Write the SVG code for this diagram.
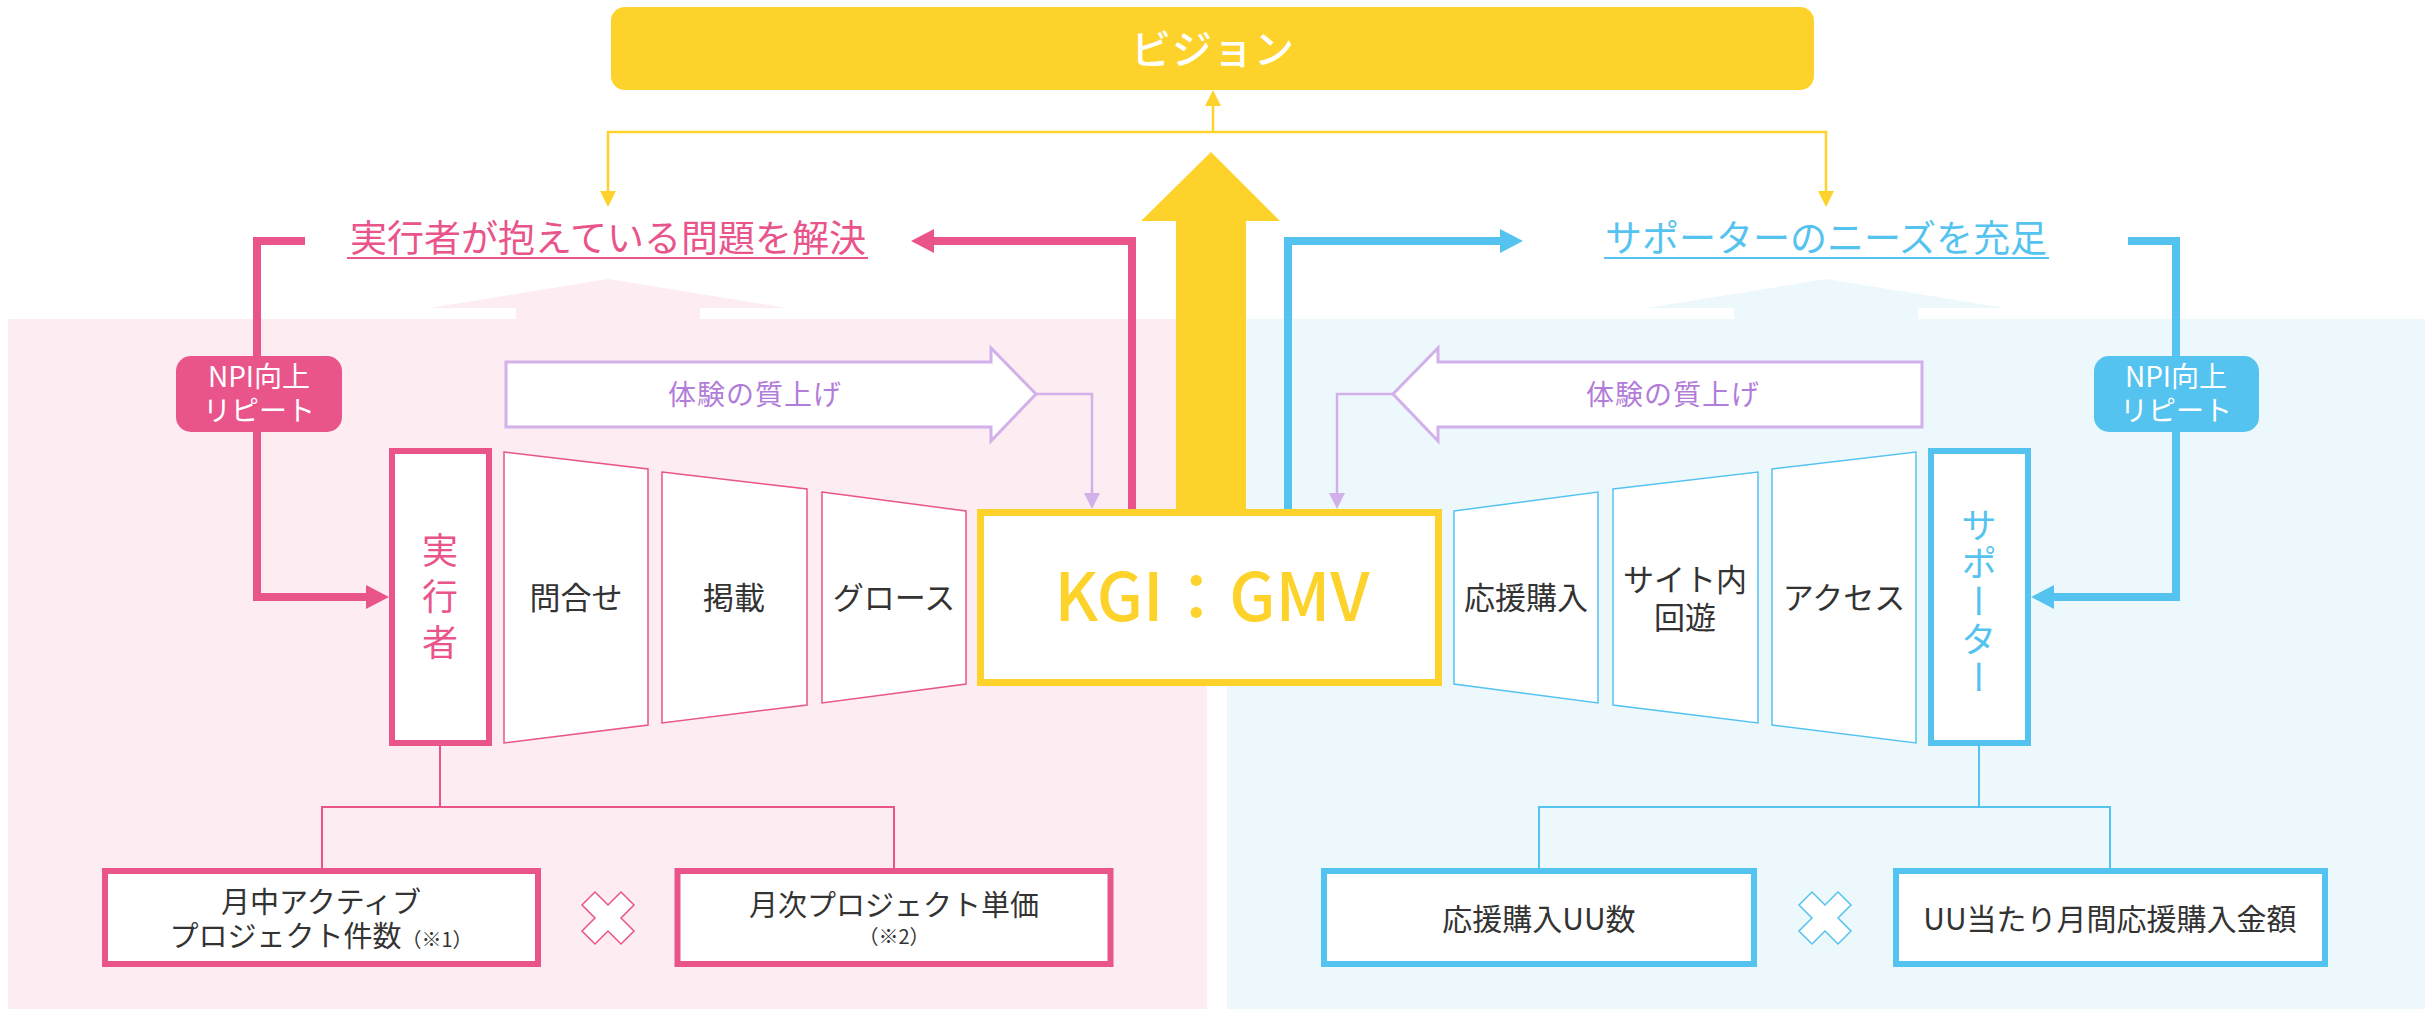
<svg xmlns="http://www.w3.org/2000/svg" width="2433" height="1009" viewBox="0 0 2433 1009">
<style>
text{font-family:"Noto Sans CJK JP","Noto Sans",sans-serif;}
.pk{fill:#e9548a;}
.bl{fill:#55c3f0;}
.dk{fill:#333333;}
.pu{fill:#b27cd9;}
.wh{fill:#ffffff;}
.ylw{fill:#fdd32b;}
.tpk{fill:#ffffff;stroke:#e9548a;stroke-width:1.5;}
.tbl{fill:#ffffff;stroke:#55c3f0;stroke-width:1.5;}
.bpk{fill:#ffffff;stroke:#e9548a;stroke-width:6;}
.bbl{fill:#ffffff;stroke:#55c3f0;stroke-width:6;}
.lpk{fill:none;stroke:#e9548a;}
.lbl{fill:none;stroke:#55c3f0;}
.ly{fill:none;stroke:#fdd32b;stroke-width:2.5;}
.lav{fill:none;stroke:#d2b0ea;stroke-width:2.5;}
.exp{fill:#ffffff;stroke:#d2b0ea;stroke-width:3;}
</style>

<!-- backgrounds -->
<g id="backgrounds">
<rect x="8" y="319" width="1199" height="690" fill="#fdedf2"/>
<rect x="1227" y="319" width="1198" height="690" fill="#edf8fd"/>
<polygon points="608,279 787,308 700,308 700,320 516,320 516,308 429,308" fill="#fdedf2"/>
<polygon points="1826,279 2005,308 1918,308 1918,320 1734,320 1734,308 1647,308" fill="#edf8fd"/>
</g>

<!-- connectors -->
<g id="connectors">
<!-- big yellow arrow -->
<rect x="1176" y="220" width="70" height="294" class="ylw"/>
<polygon points="1211,152 1280,221 1141,221" class="ylw"/>
<!-- thin yellow branch -->
<polyline points="1213,106 1213,132" class="ly"/>
<polyline points="608,192 608,132 1826,132 1826,192" class="ly"/>
<polygon points="1213,90 1221,106 1205,106" class="ylw"/>
<polygon points="608,207 600,191 616,191" class="ylw"/>
<polygon points="1826,207 1818,191 1834,191" class="ylw"/>
<!-- pink thick -->
<polyline points="1132,512 1132,241 932,241" class="lpk" stroke-width="8"/>
<polygon points="911,241 934,229 934,253" class="pk"/>
<polyline points="305,241 257,241 257,597 368,597" class="lpk" stroke-width="8"/>
<polygon points="389,597 366,585 366,609" class="pk"/>
<!-- blue thick -->
<polyline points="1288,512 1288,241 1502,241" class="lbl" stroke-width="8"/>
<polygon points="1523,241 1500,229 1500,253" class="bl"/>
<polyline points="2128,241 2176,241 2176,597 2052,597" class="lbl" stroke-width="8"/>
<polygon points="2031,597 2054,585 2054,609" class="bl"/>
<!-- lavender -->
<polyline points="1036,394 1092,394 1092,495" class="lav"/>
<polygon points="1092,509 1084,493 1100,493" fill="#d2b0ea"/>
<polyline points="1393,394 1337,394 1337,495" class="lav"/>
<polygon points="1337,509 1329,493 1345,493" fill="#d2b0ea"/>
<!-- bottom trees -->
<polyline points="440,746 440,807" class="lpk" stroke-width="2"/>
<polyline points="322,868 322,807 894,807 894,868" class="lpk" stroke-width="2"/>
<polyline points="1979,746 1979,807" class="lbl" stroke-width="2"/>
<polyline points="1539,868 1539,807 2110,807 2110,868" class="lbl" stroke-width="2"/>
</g>

<!-- vision -->
<g id="vision">
<rect x="611" y="7" width="1203" height="83" rx="14" class="ylw"/>
<text x="1213" y="64" font-size="40" font-weight="500" text-anchor="middle" class="wh" letter-spacing="1">ビジョン</text>
</g>

<!-- goals -->
<g id="goal-executor">
<text x="608" y="252" font-size="37" text-anchor="middle" class="pk">実行者が抱えている問題を解決</text>
<rect x="347" y="257" width="521" height="2" class="pk"/>
</g>
<g id="goal-supporter">
<text x="1826" y="252" font-size="37" text-anchor="middle" class="bl">サポーターのニーズを充足</text>
<rect x="1604" y="257" width="445" height="2" class="bl"/>
</g>

<!-- NPI labels -->
<g id="npi-left">
<rect x="176" y="356" width="166" height="76" rx="15" class="pk"/>
<text x="259" y="387" font-size="28" text-anchor="middle" class="wh">NPI向上</text>
<text x="259" y="421" font-size="28" text-anchor="middle" class="wh">リピート</text>
</g>
<g id="npi-right">
<rect x="2094" y="356" width="165" height="76" rx="15" class="bl"/>
<text x="2176" y="387" font-size="28" text-anchor="middle" class="wh">NPI向上</text>
<text x="2176" y="421" font-size="28" text-anchor="middle" class="wh">リピート</text>
</g>

<!-- experience arrows -->
<g id="exp-left">
<polygon points="506,362 991,362 991,348 1036,394 991,441 991,427 506,427" class="exp"/>
<text x="755" y="405" font-size="28" text-anchor="middle" class="pu" letter-spacing="1">体験の質上げ</text>
</g>
<g id="exp-right">
<polygon points="1922,362 1438,362 1438,348 1393,394 1438,441 1438,427 1922,427" class="exp"/>
<text x="1673" y="405" font-size="28" text-anchor="middle" class="pu" letter-spacing="1">体験の質上げ</text>
</g>

<!-- funnel left -->
<g id="executor">
<rect x="392" y="451" width="97" height="292" class="bpk"/>
<text x="440" y="532" font-size="36" class="pk" writing-mode="vertical-rl" letter-spacing="10">実行者</text>
</g>
<g id="inquiry">
<polygon points="504,452 648,469 648,725 504,743" class="tpk"/>
<text x="576" y="609" font-size="31" text-anchor="middle" class="dk">問合せ</text>
</g>
<g id="listing">
<polygon points="662,472 807,489 807,705 662,723" class="tpk"/>
<text x="734" y="609" font-size="31" text-anchor="middle" class="dk">掲載</text>
</g>
<g id="growth">
<polygon points="822,492 966,511 966,684 822,703" class="tpk"/>
<text x="894" y="609" font-size="31" text-anchor="middle" class="dk">グロース</text>
</g>

<!-- KGI -->
<g id="kgi">
<rect x="980.5" y="512.5" width="458" height="170" fill="#ffffff" stroke="#fdd32b" stroke-width="7"/>
<text x="1212" y="621" font-size="66" font-weight="500" text-anchor="middle" class="ylw">KGI：GMV</text>
</g>

<!-- funnel right -->
<g id="purchase">
<polygon points="1454,511 1598,492 1598,703 1454,684" class="tbl"/>
<text x="1526" y="609" font-size="31" text-anchor="middle" class="dk">応援購入</text>
</g>
<g id="browse">
<polygon points="1613,489 1758,472 1758,723 1613,705" class="tbl"/>
<text x="1685" y="591" font-size="31" text-anchor="middle" class="dk">サイト内</text>
<text x="1685" y="629" font-size="31" text-anchor="middle" class="dk">回遊</text>
</g>
<g id="access">
<polygon points="1772,469 1916,452 1916,743 1772,725" class="tbl"/>
<text x="1844" y="609" font-size="31" text-anchor="middle" class="dk">アクセス</text>
</g>
<g id="supporter">
<rect x="1931" y="451" width="97" height="292" class="bbl"/>
<text x="1979" y="507" font-size="36" class="bl" writing-mode="vertical-rl" letter-spacing="2">サポーター</text>
</g>

<!-- bottom metrics -->
<g id="active-projects">
<rect x="105" y="871" width="433" height="93" class="bpk"/>
<text x="321" y="913" font-size="29" text-anchor="middle" class="dk">月中アクティブ</text>
<text x="321" y="947" font-size="29" text-anchor="middle" class="dk">プロジェクト件数<tspan font-size="20">（※1）</tspan></text>
</g>
<g id="times-left">
<polygon points="608,905 621,892 634,905 621,918 634,931 621,944 608,931 595,944 582,931 595,918 582,905 595,892" fill="#ffffff" stroke="#e9548a" stroke-width="1.5"/>
</g>
<g id="unit-price">
<rect x="677.5" y="871" width="433" height="93" class="bpk"/>
<text x="894" y="916" font-size="29" text-anchor="middle" class="dk">月次プロジェクト単価</text>
<text x="894" y="944" font-size="20" text-anchor="middle" class="dk">（※2）</text>
</g>
<g id="purchase-uu">
<rect x="1324" y="871" width="430" height="93" class="bbl"/>
<text x="1539" y="930" font-size="30" text-anchor="middle" class="dk">応援購入UU数</text>
</g>
<g id="times-right">
<polygon points="1825,905 1838,892 1851,905 1838,918 1851,931 1838,944 1825,931 1812,944 1799,931 1812,918 1799,905 1812,892" fill="#ffffff" stroke="#55c3f0" stroke-width="1.5"/>
</g>
<g id="amount-per-uu">
<rect x="1896" y="871" width="429" height="93" class="bbl"/>
<text x="2110" y="930" font-size="30" text-anchor="middle" class="dk">UU当たり月間応援購入金額</text>
</g>
</svg>
